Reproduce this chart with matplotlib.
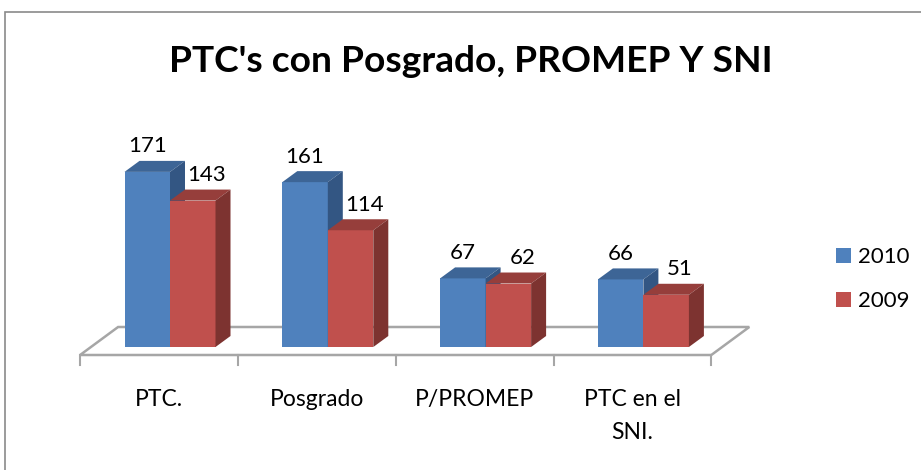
import matplotlib
matplotlib.use("Agg")
import matplotlib.pyplot as plt
from matplotlib.patches import Polygon, Patch, Rectangle

# data
categories = ["PTC.", "Posgrado", "P/PROMEP", "PTC en el\nSNI."]
series_names = ["2010", "2009"]
values_2010 = [171, 161, 67, 66]
values_2009 = [143, 114, 62, 51]
title = "PTC's con Posgrado, PROMEP Y SNI"

colors_front = ["#4F81BD", "#C0504D"]
colors_top = ["#3D6596", "#963E3B"]
colors_side = ["#335683", "#7D3330"]

plt.rcParams['font.family'] = ['Lato', 'DejaVu Sans']

W, H = 921, 470
fig = plt.figure(figsize=(W / 100, H / 100), dpi=100)
ax = fig.add_axes([0, 0, 1, 1])

# axis scale chosen so the picture lines up with the reference pixel grid
x_px = 157.8   # px per category
y_px = 1.024   # px per unit
x0_px = 170    # pixel column of category 0 centre
base_px = 347  # pixel row (from top) of value 0
ax.set_xlim(-x0_px / x_px, (W - x0_px) / x_px)
ax.set_ylim(-(H - base_px) / y_px, base_px / y_px)
ax.axis('off')


def fx(px):
    return px / x_px


def fy(px):
    return px / y_px


# 3d depth of the bars
dx, dy = fx(15), fy(11)
bar_w = fx(45.5)
label_shift = [0, fx(14)]  # excel nudges the back series' labels right

# floor
n = len(categories)
left, right = -0.5, n - 0.5
front = (-fx(11), -fy(8))
back = (fx(27), fy(20))
floor_col = "#A6A6A6"
floor_pts = [(left + front[0], front[1]), (right + front[0], front[1]),
             (right + back[0], back[1]), (left + back[0], back[1])]
ax.add_patch(Polygon(floor_pts, closed=True, facecolor="white",
                     edgecolor=floor_col, lw=1.8, zorder=1))
for k in range(n + 1):
    xt = left + k + front[0]
    ax.plot([xt, xt], [front[1], front[1] - fy(10)], color=floor_col,
            lw=1.5, zorder=1)

# bars
xs = list(range(n))
for s, vals in enumerate([values_2010, values_2009]):
    offs = (s - 0.5) * bar_w
    z = 3 + s
    ax.bar([x + offs for x in xs], vals, width=bar_w, color=colors_front[s],
           zorder=z, label=series_names[s])
    for x, v in zip(xs, vals):
        l = x + offs - bar_w / 2
        r = l + bar_w
        top = [(l, v), (r, v), (r + dx, v + dy), (l + dx, v + dy)]
        side = [(r, 0), (r, v), (r + dx, v + dy), (r + dx, dy)]
        ax.add_patch(Polygon(top, closed=True, facecolor=colors_top[s],
                             edgecolor="none", zorder=z))
        ax.add_patch(Polygon(side, closed=True, facecolor=colors_side[s],
                             edgecolor="none", zorder=z))
        ax.text(x + offs + label_shift[s], v + dy + fy(14.5), str(v),
                ha="center", va="center", fontsize=16, color="black",
                zorder=6)

# category labels
for x, lab in zip(xs, categories):
    ax.text(x + front[0], -fy(42), lab, ha="center", va="top", fontsize=16.5,
            linespacing=1.7, color="black")

# title
fig.text(471 / W, 1 - 62 / H, title, ha="center", va="center",
         fontsize=26.7, fontweight="bold", color="black")

# legend
handles = [Patch(facecolor=colors_front[i], label=series_names[i])
           for i in range(2)]
fig.legend(handles=handles, loc="upper left",
           bbox_to_anchor=(836 / W, 1 - 247 / H), frameon=False,
           fontsize=16, handlelength=0.68, handleheight=0.68,
           handletextpad=0.3, labelspacing=1.1, borderpad=0,
           borderaxespad=0)

# chart border
fig.add_artist(Rectangle((5 / W, -0.1), 2, 1.1 - 12 / H,
                         transform=fig.transFigure, fill=False,
                         edgecolor="#8A8A8A", lw=1.2))

fig.savefig("out.png", dpi=100)
